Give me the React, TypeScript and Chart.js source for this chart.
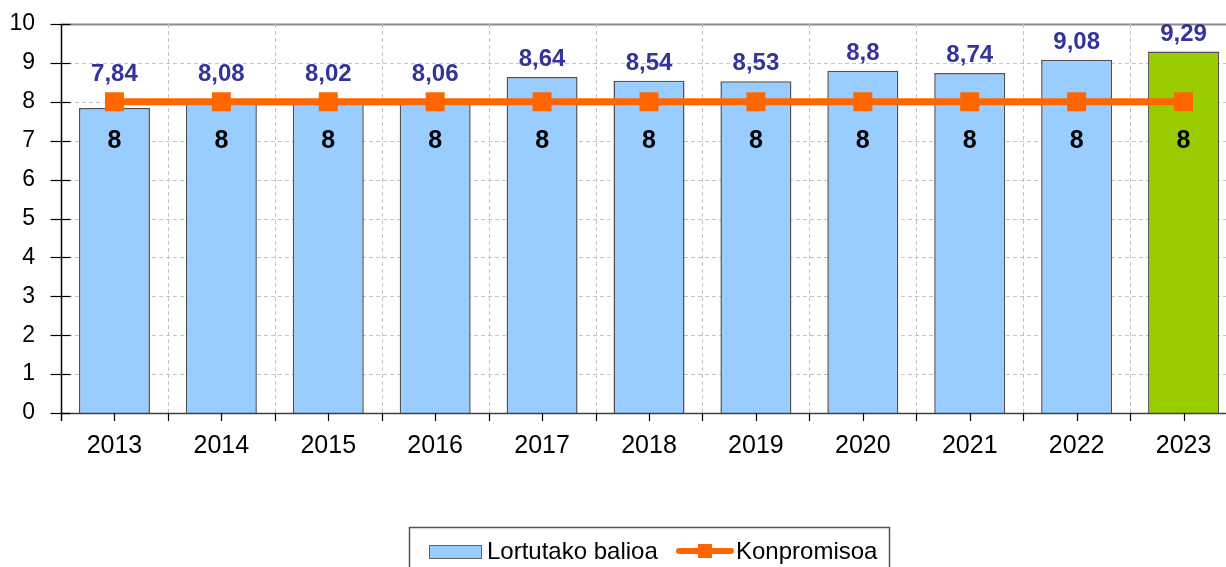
import React, { useEffect, useRef } from "react";
import { Chart, registerables } from "chart.js";

Chart.register(...registerables);

const categories = ["2013", "2014", "2015", "2016", "2017", "2018", "2019", "2020", "2021", "2022", "2023"];
const achievedValues = [7.84, 8.08, 8.02, 8.06, 8.64, 8.54, 8.53, 8.8, 8.74, 9.08, 9.29];
const commitmentValues = [8, 8, 8, 8, 8, 8, 8, 8, 8, 8, 8];
const yTicks = [0, 1, 2, 3, 4, 5, 6, 7, 8, 9, 10];
const seriesNames = ["Lortutako balioa", "Konpromisoa"];

const FONT = "'Liberation Sans', Arial, sans-serif";
const BAR_BLUE = "#99CCFF";
const BAR_GREEN = "#99CC00";
const ORANGE = "#FF6600";
const PLOT_OVERFLOW = 11; // plot area runs past the right edge of the picture

const fmt = (v: number) => String(v).replace(".", ",");

const extendPlugin = {
  id: "extend",
  afterLayout(chart: any) {
    const x = chart.scales.x;
    const R = chart.width + PLOT_OVERFLOW;
    x.right = R;
    x.width = R - x.left;
    x.configure();
    chart.chartArea.right = R;
    chart.chartArea.width = R - chart.chartArea.left;
  },
};

const decorPlugin = {
  id: "decor",
  beforeDatasetsDraw(chart: any) {
    const { ctx, chartArea } = chart;
    const x = chart.scales.x;
    const y = chart.scales.y;
    ctx.save();
    yTicks.forEach((t) => {
      if (t === 0) return;
      const py = Math.round(y.getPixelForValue(t)) + 0.5;
      ctx.beginPath();
      if (t === 10) {
        ctx.setLineDash([]);
        ctx.strokeStyle = "#8a8a8a";
        ctx.lineWidth = 2;
      } else {
        ctx.setLineDash([4, 3]);
        ctx.strokeStyle = "#c4c4c4";
        ctx.lineWidth = 1;
      }
      ctx.moveTo(chartArea.left, py);
      ctx.lineTo(chartArea.right, py);
      ctx.stroke();
    });
    ctx.setLineDash([4, 3]);
    ctx.strokeStyle = "#c4c4c4";
    ctx.lineWidth = 1;
    for (let i = 1; i < categories.length; i++) {
      const px = Math.round((x.getPixelForValue(i - 1) + x.getPixelForValue(i)) / 2) + 0.5;
      ctx.beginPath();
      ctx.moveTo(px, chartArea.top);
      ctx.lineTo(px, chartArea.bottom);
      ctx.stroke();
    }
    ctx.restore();
  },
  afterDatasetsDraw(chart: any) {
    const { ctx, chartArea } = chart;
    const x = chart.scales.x;
    const y = chart.scales.y;
    ctx.save();
    ctx.setLineDash([]);
    const by = Math.round(chartArea.bottom) + 0.5;
    ctx.strokeStyle = "#404040";
    ctx.lineWidth = 1.5;
    ctx.beginPath();
    ctx.moveTo(chartArea.left, by);
    ctx.lineTo(chartArea.right, by);
    ctx.stroke();
    const ax = Math.round(chartArea.left) + 0.5;
    ctx.strokeStyle = "#000";
    ctx.lineWidth = 1.5;
    ctx.beginPath();
    ctx.moveTo(ax, chartArea.top);
    ctx.lineTo(ax, chartArea.bottom + 8);
    ctx.stroke();
    ctx.lineWidth = 1.2;
    yTicks.forEach((t) => {
      const py = Math.round(y.getPixelForValue(t)) + 0.5;
      ctx.beginPath();
      ctx.moveTo(ax - 11, py);
      ctx.lineTo(ax + 9, py);
      ctx.stroke();
    });
    for (let i = 0; i < categories.length; i++) {
      const c = x.getPixelForValue(i);
      const xs = [c];
      if (i > 0) xs.push((x.getPixelForValue(i - 1) + c) / 2);
      xs.forEach((px) => {
        const qx = Math.round(px) + 0.5;
        ctx.beginPath();
        ctx.moveTo(qx, chartArea.bottom);
        ctx.lineTo(qx, chartArea.bottom + 8);
        ctx.stroke();
      });
    }

    const barMeta = chart.getDatasetMeta(1);
    const lineMeta = chart.getDatasetMeta(0);
    ctx.textAlign = "center";
    ctx.textBaseline = "alphabetic";
    barMeta.data.forEach((bar: any, i: number) => {
      const pt = lineMeta.data[i];
      const markerTop = pt.y - 9.5;
      const top = Math.min(bar.y, markerTop);
      ctx.font = `bold 24px ${FONT}`;
      ctx.fillStyle = "#333399";
      ctx.fillText(fmt(achievedValues[i]), bar.x, top - 11);
      ctx.font = `bold 25px ${FONT}`;
      ctx.fillStyle = "#000";
      ctx.fillText(fmt(commitmentValues[i]), pt.x, pt.y + 46);
    });
    ctx.restore();
  },
  afterDraw(chart: any) {
    const { ctx } = chart;
    ctx.save();
    const left = 409.5, top = 527.5, right = 889.5, bottom = 580;
    ctx.strokeStyle = "#555";
    ctx.lineWidth = 1.5;
    ctx.strokeRect(left, top, right - left, bottom - top);
    const cy = 551;
    ctx.fillStyle = BAR_BLUE;
    ctx.fillRect(429, 545, 52, 13);
    ctx.strokeStyle = "#606060";
    ctx.lineWidth = 1;
    ctx.strokeRect(429.5, 545.5, 52, 13);
    ctx.font = `24px ${FONT}`;
    ctx.fillStyle = "#000";
    ctx.textAlign = "left";
    ctx.textBaseline = "middle";
    ctx.fillText(seriesNames[0], 487, cy + 1);
    ctx.strokeStyle = ORANGE;
    ctx.lineWidth = 6;
    ctx.lineCap = "round";
    ctx.beginPath();
    ctx.moveTo(679, cy);
    ctx.lineTo(731, cy);
    ctx.stroke();
    ctx.fillStyle = ORANGE;
    ctx.fillRect(698, cy - 7, 14, 14);
    ctx.fillStyle = "#000";
    ctx.fillText(seriesNames[1], 736, cy + 1);
    ctx.restore();
  },
};

export default function App() {
  const ref = useRef<HTMLCanvasElement>(null);
  useEffect(() => {
    document.body.style.margin = "0";
    const canvas = ref.current!;
    const chart = new Chart(canvas, {
      type: "bar",
      data: {
        labels: categories,
        datasets: [
          {
            type: "line",
            label: seriesNames[1],
            data: commitmentValues,
            borderColor: ORANGE,
            backgroundColor: ORANGE,
            borderWidth: 7,
            pointStyle: "rect",
            pointRadius: 13.4,
            pointBorderWidth: 0,
            pointBackgroundColor: ORANGE,
            fill: false,
            tension: 0,
            order: 0,
          } as any,
          {
            type: "bar",
            label: seriesNames[0],
            data: achievedValues,
            backgroundColor: achievedValues.map((_, i) => (i === achievedValues.length - 1 ? BAR_GREEN : BAR_BLUE)),
            borderColor: "#505050",
            borderWidth: 1.5,
            borderSkipped: "bottom",
            categoryPercentage: 1,
            barPercentage: 0.664,
            order: 1,
          } as any,
        ],
      },
      options: {
        responsive: false,
        animation: false,
        devicePixelRatio: 1,
        layout: { padding: { top: 24, left: 0, right: 0, bottom: 0 } },
        plugins: { legend: { display: false }, tooltip: { enabled: false } },
        scales: {
          x: {
            offset: true,
            grid: { display: false, drawTicks: false },
            border: { display: false },
            ticks: { color: "#000", font: { family: FONT, size: 25 }, padding: 18, maxRotation: 0 },
            afterFit: (s: any) => {
              s.height = 154;
              s.paddingLeft = 0;
              s.paddingRight = 0;
            },
          },
          y: {
            min: 0,
            max: 10,
            grid: { display: false, drawTicks: false },
            border: { display: false },
            ticks: { stepSize: 1, color: "#000", font: { family: FONT, size: 23 }, padding: 26 },
            afterFit: (s: any) => {
              s.width = 61;
              s.paddingTop = 0;
              s.paddingBottom = 0;
            },
          },
        },
      },
      plugins: [extendPlugin, decorPlugin],
    });
    return () => chart.destroy();
  }, []);
  return <canvas ref={ref} width={1226} height={567} style={{ display: "block" }} />;
}
